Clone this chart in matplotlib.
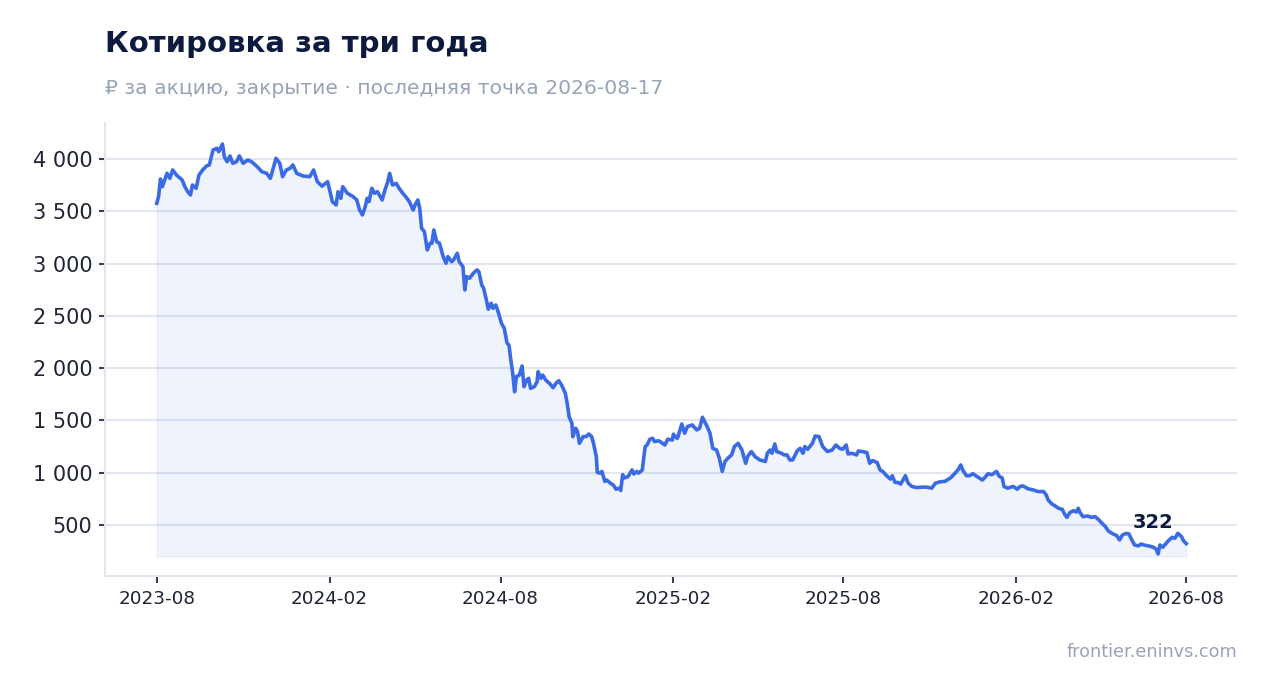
#!/usr/bin/env python3
import matplotlib
matplotlib.use("Agg")
import matplotlib.pyplot as plt
import matplotlib.dates as mdates
import numpy as np
import pandas as pd

# days since first quote and closing price (rub)
start = "2023-08-17"
day = [0, 2, 4, 6, 11, 14, 17, 21, 27, 30, 33, 36, 38, 42, 45, 49, 53, 56, 60, 64,
       66, 70, 72, 75, 78, 81, 85, 88, 92, 97, 101, 107, 112, 117, 121, 124, 127, 131, 134, 138,
       142, 145, 149, 156, 163, 167, 171, 176, 182, 187, 191, 193, 196, 198, 203, 209, 213, 216, 219, 222,
       224, 226, 229, 232, 235, 240, 243, 246, 248, 251, 255, 258, 262, 265, 269, 273, 275, 278, 280, 282,
       285, 288, 291, 293, 295, 298, 301, 305, 308, 310, 314, 316, 320, 322, 326, 328, 330, 333, 337, 341,
       343, 346, 348, 351, 353, 356, 358, 361, 364, 367, 370, 373, 375, 377, 379, 381, 383, 386, 389, 391,
       394, 396, 398, 402, 405, 406, 409, 411, 414, 418, 422, 425, 428, 431, 435, 437, 439, 442, 443, 446,
       448, 450, 454, 457, 460, 463, 465, 468, 469, 472, 474, 477, 479, 483, 486, 489, 492, 494, 496, 498,
       502, 506, 508, 511, 513, 517, 518, 520, 522, 525, 528, 530, 534, 536, 541, 544, 549, 550, 554, 555,
       559, 562, 565, 570, 575, 578, 581, 586, 589, 592, 596, 599, 602, 605, 608, 612, 615, 619, 623, 627,
       629, 633, 637, 642, 648, 650, 653, 655, 658, 660, 665, 668, 671, 674, 677, 682, 685, 688, 690, 693,
       698, 701, 705, 709, 714, 719, 723, 727, 730, 734, 736, 740, 745, 747, 751, 756, 759, 762, 767, 770,
       773, 777, 781, 783, 786, 789, 792, 797, 800, 804, 809, 815, 820, 825, 829, 834, 839, 845, 850, 853,
       856, 858, 862, 865, 869, 873, 879, 882, 885, 889, 894, 897, 900, 902, 906, 909, 912, 916, 919, 922,
       928, 933, 938, 944, 947, 949, 953, 956, 960, 964, 967, 969, 972, 976, 979, 981, 983, 986, 991, 995,
       999, 1003, 1007, 1010, 1013, 1017, 1022, 1025, 1028, 1032, 1035, 1038, 1041, 1045, 1048, 1052, 1056, 1061, 1064, 1066,
       1068, 1071, 1074, 1077, 1081, 1084, 1087, 1091, 1093, 1096]
price = [3576, 3640, 3809, 3735, 3863, 3815, 3895, 3847, 3800, 3735, 3687, 3656, 3751, 3720, 3847, 3895, 3933, 3943, 4086, 4102,
         4070, 4143, 4022, 3974, 4029, 3959, 3974, 4029, 3959, 3990, 3974, 3926, 3878, 3863, 3815, 3911, 4006, 3959, 3831, 3895,
         3911, 3943, 3863, 3837, 3831, 3895, 3783, 3740, 3783, 3592, 3560, 3687, 3624, 3735, 3672, 3640, 3608, 3512, 3465, 3544,
         3624, 3592, 3720, 3672, 3687, 3608, 3704, 3783, 3863, 3751, 3767, 3720, 3672, 3640, 3592, 3512, 3560, 3608, 3528, 3337,
         3305, 3130, 3194, 3194, 3321, 3209, 3194, 3066, 3003, 3066, 3018, 3034, 3098, 3018, 2970, 2747, 2875, 2859, 2907, 2939,
         2922, 2795, 2764, 2652, 2563, 2620, 2572, 2604, 2524, 2429, 2381, 2238, 2221, 2078, 1951, 1775, 1919, 1934, 2020, 1823,
         1887, 1903, 1807, 1823, 1871, 1966, 1903, 1934, 1887, 1855, 1813, 1855, 1880, 1839, 1760, 1664, 1536, 1473, 1345, 1425,
         1393, 1281, 1345, 1345, 1370, 1345, 1281, 1154, 1003, 996, 1012, 917, 930, 900, 883, 842, 852, 830, 981, 950,
         965, 1027, 987, 1012, 996, 1027, 1107, 1250, 1265, 1320, 1329, 1297, 1306, 1297, 1265, 1320, 1313, 1368, 1329, 1345,
         1466, 1377, 1441, 1457, 1409, 1425, 1530, 1441, 1377, 1233, 1217, 1138, 1012, 1107, 1138, 1170, 1250, 1281, 1217, 1090,
         1154, 1202, 1154, 1122, 1107, 1186, 1217, 1186, 1275, 1202, 1186, 1170, 1170, 1122, 1122, 1211, 1233, 1186, 1250, 1224,
         1281, 1351, 1345, 1250, 1202, 1217, 1265, 1233, 1224, 1265, 1179, 1186, 1170, 1208, 1202, 1193, 1090, 1116, 1097, 1027,
         1012, 971, 939, 971, 907, 907, 891, 971, 900, 868, 858, 862, 862, 852, 900, 913, 917, 950, 996, 1027,
         1074, 1027, 971, 971, 990, 965, 930, 958, 990, 981, 1012, 965, 950, 868, 852, 862, 868, 842, 868, 874,
         845, 836, 820, 820, 787, 739, 701, 685, 660, 650, 595, 573, 618, 637, 624, 660, 618, 580, 586, 573,
         580, 548, 510, 484, 443, 420, 398, 357, 404, 420, 414, 357, 309, 300, 318, 306, 300, 287, 268, 223,
         309, 287, 318, 350, 382, 373, 420, 388, 350, 322]

title = "Котировка за три года"
subtitle = "₽ за акцию, закрытие · последняя точка 2026-08-17"
source = "frontier.eninvs.com"

LINE = "#3a6be4"
DARK = "#0d1a3f"
GREY = "#97a3b6"
GRID = "#e2e6ef"


def main():
    t0 = pd.Timestamp(start)
    dates = t0 + pd.to_timedelta(day, unit="D")
    vals = np.array(price, dtype=float)

    fig = plt.figure(figsize=(12.67, 6.93), dpi=100)
    ax = fig.add_axes([0.0829, 0.1688, 0.8934, 0.6537])

    base = vals.min() * 0.9
    ax.fill_between(dates, vals, base, color=LINE, alpha=0.08, linewidth=1.0)
    ax.plot(dates, vals, color=LINE, lw=2.6, solid_joinstyle="round")

    ax.set_xlim(t0 - pd.Timedelta(days=55), t0 + pd.Timedelta(days=1150))
    ax.set_ylim(12, 4344)

    ax.set_yticks([500, 1000, 1500, 2000, 2500, 3000, 3500, 4000])
    ax.yaxis.set_major_formatter(plt.FuncFormatter(lambda v, p: f"{int(v):,}".replace(",", " ")))
    ax.xaxis.set_major_locator(mdates.MonthLocator(bymonth=(2, 8), bymonthday=17))
    ax.xaxis.set_major_formatter(mdates.DateFormatter("%Y-%m"))

    ax.grid(axis="y", color=GRID, lw=1.5)
    ax.set_axisbelow(True)
    for s in ("top", "right"):
        ax.spines[s].set_visible(False)
    for s in ("left", "bottom"):
        ax.spines[s].set_color(GRID)
        ax.spines[s].set_linewidth(1.5)

    ax.tick_params(axis="y", labelsize=15, colors="#3a4150", labelcolor="#1e2433",
                   length=4, width=1.5, pad=5)
    ax.tick_params(axis="x", labelsize=13.2, colors="#3a4150", labelcolor="#1e2433",
                   length=5, width=1.5, pad=5)

    ax.annotate(f"{price[-1]}", (dates[-1], vals[-1]), xytext=(-24, 15),
                textcoords="offset points", ha="center", va="center",
                fontsize=14, fontweight="bold", color=DARK)

    fig.text(105 / 1267, 1 - 44 / 693, title, fontsize=21, fontweight="bold",
             color=DARK, ha="left", va="center")
    fig.text(105 / 1267, 1 - 88 / 693, subtitle, fontsize=14.6, color=GREY,
             ha="left", va="center")
    fig.text(1237 / 1267, 1 - 652 / 693, source, fontsize=12.7, color=GREY,
             ha="right", va="center")

    fig.savefig("out.png", dpi=100)


if __name__ == '__main__':
    main()
